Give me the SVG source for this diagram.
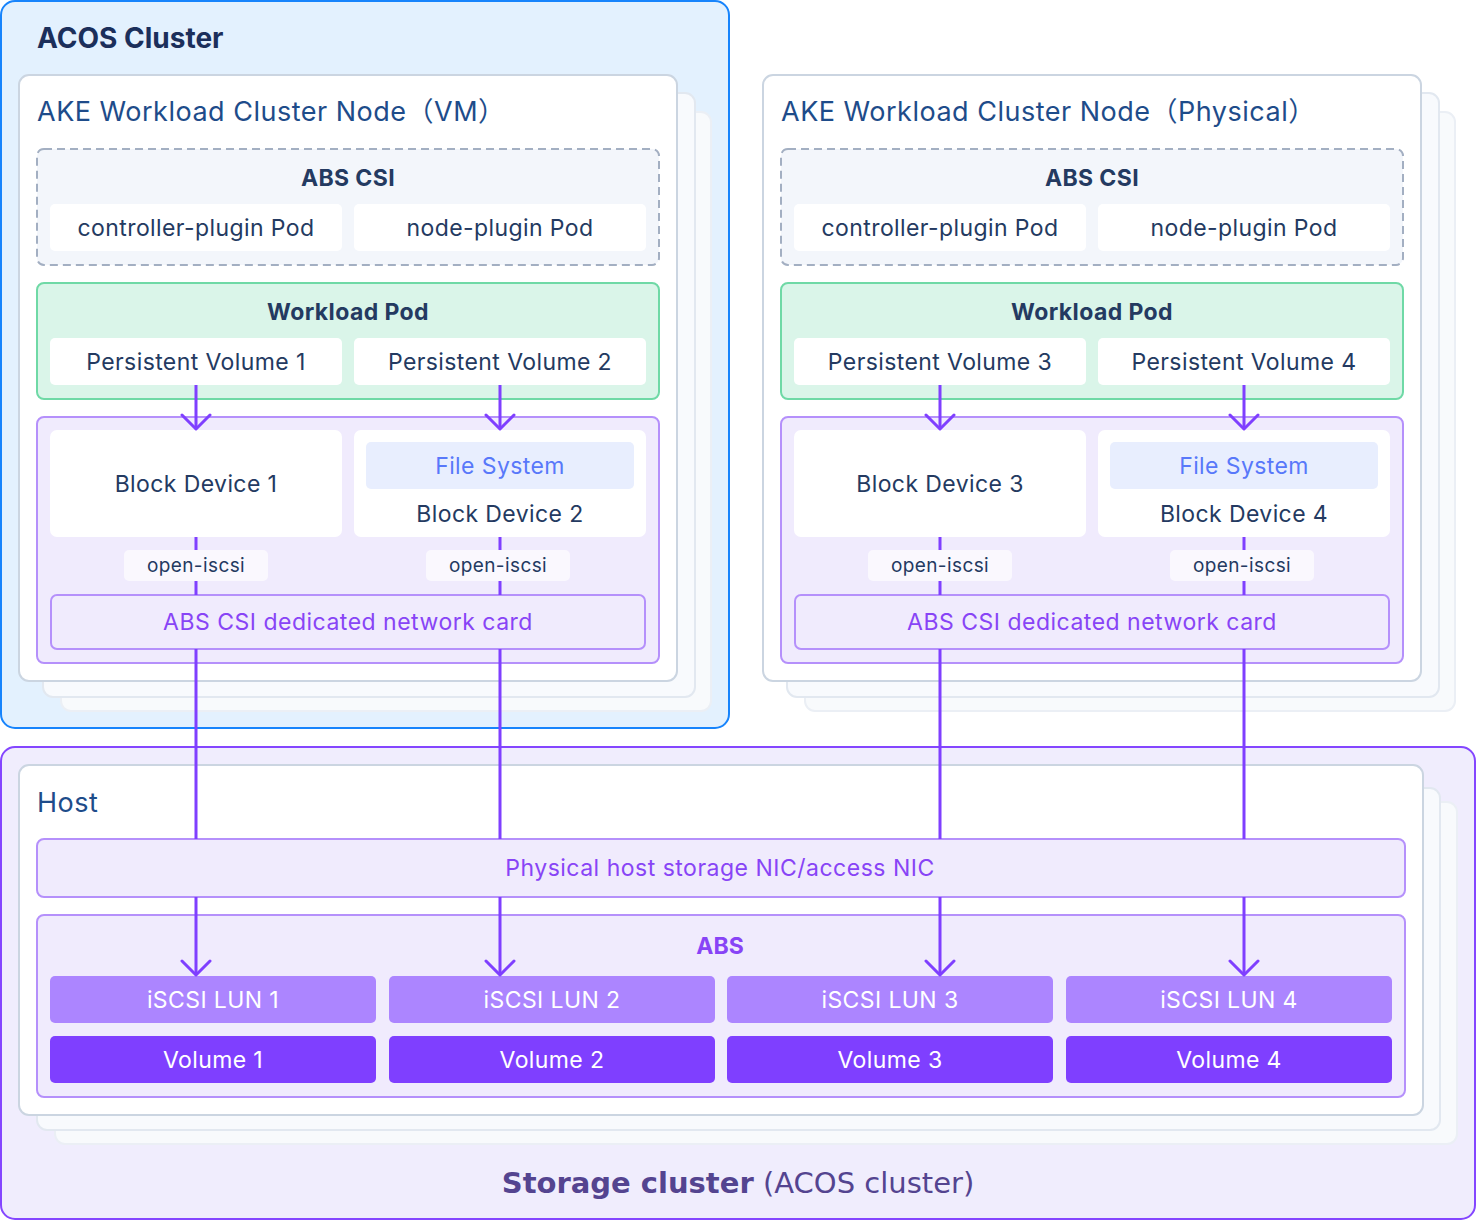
<svg xmlns="http://www.w3.org/2000/svg" width="1476" height="1220" viewBox="0 0 1476 1220">
<defs>
<style>
text{font-family:Inter,"Noto Sans","Noto Sans CJK SC",sans-serif;}
.card{fill:#fff;stroke:#CBD5E1;stroke-width:2;}
.card2{fill:#F8FAFD;stroke:#E2E8F0;stroke-width:2;}
.card3{fill:#F8FAFC;stroke:#EBEFF5;stroke-width:2;}
.ttl{font-size:27px;fill:#1E4C8A;letter-spacing:0.5px;}
.csi{fill:#F3F6FB;stroke:#A3AFC2;stroke-width:2;stroke-dasharray:8 5;}
.wp{fill:#DAF5E9;stroke:#6FD9A6;stroke-width:2;}
.pur{fill:#F0EBFD;stroke:#B590FB;stroke-width:2;}
.wb{fill:#fff;}
.t{font-size:23px;fill:#243A61;text-anchor:middle;letter-spacing:0.4px;}
.hb{font-size:23px;fill:#243A61;font-weight:700;text-anchor:middle;letter-spacing:0.4px;}
.fs{fill:#E8EEFE;}
.fst{font-size:23px;fill:#5878FA;text-anchor:middle;letter-spacing:0.4px;}
.pt{font-size:23px;fill:#8844F6;text-anchor:middle;letter-spacing:0.5px;}
.oi{fill:#FAF8FE;}
.oit{font-size:19px;fill:#243A61;text-anchor:middle;letter-spacing:0.4px;}
.lun{fill:#AC85FF;}
.vol{fill:#7F3FFF;}
.wt{font-size:23px;fill:#fff;text-anchor:middle;letter-spacing:0.4px;}
.ln{stroke:#7F3FFF;stroke-width:3;fill:none;}
.ah{stroke:#7F3FFF;stroke-width:3;fill:none;stroke-linecap:round;stroke-linejoin:round;}
</style>
</defs>

<g id="acos-cluster">
<rect x="1" y="1" width="728" height="727" rx="14" fill="#E3F1FE" stroke="#1784FC" stroke-width="2"/>
<text x="37" y="48" font-size="28" font-weight="700" fill="#1B2F5B">ACOS Cluster</text>
</g>

<g id="storage-cluster">
<rect x="1" y="747" width="1474" height="472" rx="14" fill="#F0EDFD" stroke="#8446FF" stroke-width="2"/>
<text x="738" y="1193" font-size="29" fill="#544490" text-anchor="middle" style="font-family:'DejaVu Sans',sans-serif"><tspan font-weight="700">Storage cluster</tspan> (ACOS cluster)</text>
</g>

<!-- VM node -->
<g id="vm-node">
<rect class="card3" x="61" y="112" width="650" height="599" rx="10"/>
<rect class="card2" x="43" y="93" width="652" height="604" rx="10"/>
<rect class="card" x="19" y="75" width="658" height="606" rx="10"/>
<text class="ttl" x="37" y="121">AKE Workload Cluster Node（VM）</text>
<g id="vm-abs-csi">
<rect class="csi" x="37" y="149" width="622" height="116" rx="7"/>
<text class="hb" x="348" y="186">ABS CSI</text>
<rect class="wb" x="50" y="204" width="292" height="47" rx="5"/>
<text class="t" x="196" y="236">controller-plugin Pod</text>
<rect class="wb" x="354" y="204" width="292" height="47" rx="5"/>
<text class="t" x="500" y="236">node-plugin Pod</text>
</g>
<g id="vm-workload-pod">
<rect class="wp" x="37" y="283" width="622" height="116" rx="7"/>
<text class="hb" x="348" y="320">Workload Pod</text>
<rect class="wb" x="50" y="338" width="292" height="47" rx="5"/>
<text class="t" x="196" y="370">Persistent Volume 1</text>
<rect class="wb" x="354" y="338" width="292" height="47" rx="5"/>
<text class="t" x="500" y="370">Persistent Volume 2</text>
</g>
<g id="vm-devices">
<rect class="pur" x="37" y="417" width="622" height="246" rx="7"/>
<rect class="wb" x="50" y="430" width="292" height="107" rx="7"/>
<text class="t" x="196" y="492">Block Device 1</text>
<rect class="wb" x="354" y="430" width="292" height="107" rx="7"/>
<rect class="fs" x="366" y="442" width="268" height="47" rx="5"/>
<text class="fst" x="500" y="474">File System</text>
<text class="t" x="500" y="522">Block Device 2</text>
<rect class="pur" x="51" y="595" width="594" height="54" rx="6"/>
<text class="pt" x="348" y="630">ABS CSI dedicated network card</text>
</g>
</g>

<!-- Physical node -->
<g id="phys-node">
<rect class="card3" x="805" y="112" width="650" height="599" rx="10"/>
<rect class="card2" x="787" y="93" width="652" height="604" rx="10"/>
<rect class="card" x="763" y="75" width="658" height="606" rx="10"/>
<text class="ttl" x="781" y="121">AKE Workload Cluster Node（Physical）</text>
<g id="phys-abs-csi">
<rect class="csi" x="781" y="149" width="622" height="116" rx="7"/>
<text class="hb" x="1092" y="186">ABS CSI</text>
<rect class="wb" x="794" y="204" width="292" height="47" rx="5"/>
<text class="t" x="940" y="236">controller-plugin Pod</text>
<rect class="wb" x="1098" y="204" width="292" height="47" rx="5"/>
<text class="t" x="1244" y="236">node-plugin Pod</text>
</g>
<g id="phys-workload-pod">
<rect class="wp" x="781" y="283" width="622" height="116" rx="7"/>
<text class="hb" x="1092" y="320">Workload Pod</text>
<rect class="wb" x="794" y="338" width="292" height="47" rx="5"/>
<text class="t" x="940" y="370">Persistent Volume 3</text>
<rect class="wb" x="1098" y="338" width="292" height="47" rx="5"/>
<text class="t" x="1244" y="370">Persistent Volume 4</text>
</g>
<g id="phys-devices">
<rect class="pur" x="781" y="417" width="622" height="246" rx="7"/>
<rect class="wb" x="794" y="430" width="292" height="107" rx="7"/>
<text class="t" x="940" y="492">Block Device 3</text>
<rect class="wb" x="1098" y="430" width="292" height="107" rx="7"/>
<rect class="fs" x="1110" y="442" width="268" height="47" rx="5"/>
<text class="fst" x="1244" y="474">File System</text>
<text class="t" x="1244" y="522">Block Device 4</text>
<rect class="pur" x="795" y="595" width="594" height="54" rx="6"/>
<text class="pt" x="1092" y="630">ABS CSI dedicated network card</text>
</g>
</g>

<!-- Host -->
<g id="host">
<rect class="card3" x="55" y="802" width="1402" height="342" rx="10"/>
<rect class="card2" x="37" y="788" width="1403" height="342" rx="10"/>
<rect class="card" x="19" y="765" width="1404" height="350" rx="10"/>
<text class="ttl" x="37" y="812">Host</text>
<g id="host-nic">
<rect class="pur" x="37" y="839" width="1368" height="58" rx="7"/>
<text class="pt" x="720" y="876">Physical host storage NIC/access NIC</text>
</g>
<g id="abs">
<rect class="pur" x="37" y="915" width="1368" height="182" rx="7"/>
<text x="720" y="954" font-size="23" font-weight="700" fill="#8844F6" text-anchor="middle">ABS</text>
<rect class="lun" x="50" y="976" width="326" height="47" rx="5"/>
<text class="wt" x="213" y="1008">iSCSI LUN 1</text>
<rect class="lun" x="389" y="976" width="326" height="47" rx="5"/>
<text class="wt" x="552" y="1008">iSCSI LUN 2</text>
<rect class="lun" x="727" y="976" width="326" height="47" rx="5"/>
<text class="wt" x="890" y="1008">iSCSI LUN 3</text>
<rect class="lun" x="1066" y="976" width="326" height="47" rx="5"/>
<text class="wt" x="1229" y="1008">iSCSI LUN 4</text>
<rect class="vol" x="50" y="1036" width="326" height="47" rx="5"/>
<text class="wt" x="213" y="1068">Volume 1</text>
<rect class="vol" x="389" y="1036" width="326" height="47" rx="5"/>
<text class="wt" x="552" y="1068">Volume 2</text>
<rect class="vol" x="727" y="1036" width="326" height="47" rx="5"/>
<text class="wt" x="890" y="1068">Volume 3</text>
<rect class="vol" x="1066" y="1036" width="326" height="47" rx="5"/>
<text class="wt" x="1229" y="1068">Volume 4</text>
</g>
</g>

<g id="connectors">
<path class="ln" d="M196,385V429M196,537V595M196,649V839M196,897V975"/>
<path class="ln" d="M500,385V429M500,537V595M500,649V839M500,897V975"/>
<path class="ln" d="M940,385V429M940,537V595M940,649V839M940,897V975"/>
<path class="ln" d="M1244,385V429M1244,537V595M1244,649V839M1244,897V975"/>
<path class="ah" d="M182,415L196,429L210,415M486,415L500,429L514,415M926,415L940,429L954,415M1230,415L1244,429L1258,415"/>
<path class="ah" d="M182,961L196,975L210,961M486,961L500,975L514,961M926,961L940,975L954,961M1230,961L1244,975L1258,961"/>
<rect class="oi" x="124" y="550" width="144" height="31" rx="5"/>
<text class="oit" x="196" y="572">open-iscsi</text>
<rect class="oi" x="426" y="550" width="144" height="31" rx="5"/>
<text class="oit" x="498" y="572">open-iscsi</text>
<rect class="oi" x="868" y="550" width="144" height="31" rx="5"/>
<text class="oit" x="940" y="572">open-iscsi</text>
<rect class="oi" x="1170" y="550" width="144" height="31" rx="5"/>
<text class="oit" x="1242" y="572">open-iscsi</text>
</g>
</svg>
